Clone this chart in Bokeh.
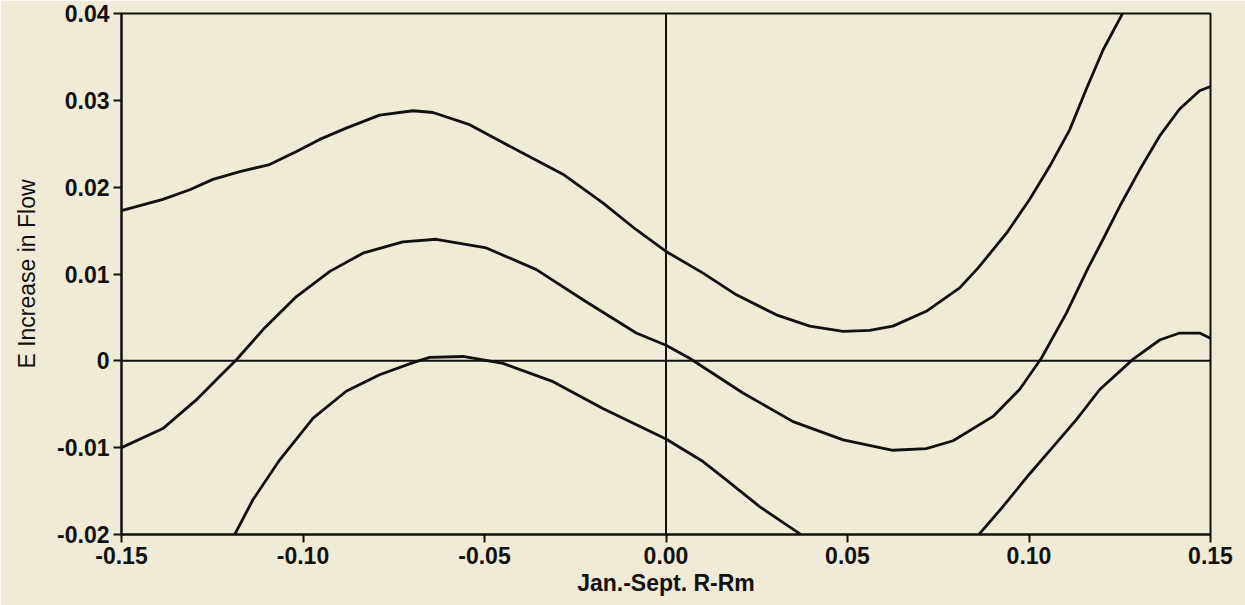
import numpy as np
from bokeh.plotting import figure
from bokeh.models import Span, FixedTicker, Range1d
from bokeh.embed import file_html
from bokeh.resources import INLINE

# ---- data ----
upper_x = [-0.15, -0.1386, -0.1312, -0.1248, -0.1174, -0.1092, -0.1018, -0.0954, -0.0881,
           -0.0789, -0.0697, -0.0642, -0.0541, -0.0403, -0.0284, -0.0174, -0.0082, 0.0,
           0.0102, 0.0194, 0.0304, 0.0396, 0.0488, 0.0561, 0.0625, 0.0717, 0.0809, 0.0860,
           0.0938, 0.1002, 0.1057, 0.1112, 0.1158, 0.1204, 0.1259]
upper_y = [0.0173, 0.0186, 0.0197, 0.0209, 0.0218, 0.0226, 0.0241, 0.0255, 0.0268,
           0.0283, 0.0288, 0.0286, 0.0272, 0.0241, 0.0215, 0.0182, 0.0151, 0.0126,
           0.0101, 0.0076, 0.0053, 0.0040, 0.0034, 0.0035, 0.0040, 0.0057, 0.0084, 0.0107,
           0.0147, 0.0186, 0.0224, 0.0266, 0.0313, 0.0358, 0.0401]

middle_x = [-0.15, -0.1386, -0.1294, -0.1230, -0.1184, -0.1110, -0.1018, -0.0926, -0.0835,
            -0.0725, -0.0633, -0.0495, -0.0357, -0.0220, -0.0082, 0.0, 0.0065, 0.0212,
            0.0350, 0.0488, 0.0625, 0.0717, 0.0791, 0.0901, 0.0974, 0.1034, 0.1103, 0.1163,
            0.1204, 0.1250, 0.1305, 0.1360, 0.1415, 0.1470, 0.15]
middle_y = [-0.0100, -0.0078, -0.0045, -0.0018, 0.0001, 0.0036, 0.0074, 0.0103, 0.0124,
            0.0137, 0.0140, 0.0130, 0.0105, 0.0068, 0.0032, 0.0018, 0.0003, -0.0037,
            -0.0070, -0.0091, -0.0103, -0.0101, -0.0092, -0.0064, -0.0033, 0.0003, 0.0055, 0.0107,
            0.0140, 0.0178, 0.0220, 0.0259, 0.0290, 0.0311, 0.0316]

lower_left_x = [-0.1188, -0.1138, -0.1064, -0.0972, -0.0881, -0.0789, -0.0697, -0.0651,
                -0.0559, -0.0449, -0.0311, -0.0174, 0.0, 0.0102, 0.0166, 0.0258, 0.0368]
lower_left_y = [-0.0200, -0.0160, -0.0114, -0.0066, -0.0035, -0.0016, -0.0002, 0.0004,
                0.0005, -0.0003, -0.0024, -0.0055, -0.0090, -0.0116, -0.0137, -0.0168, -0.0199]

lower_right_x = [0.0864, 0.0928, 0.1002, 0.1066, 0.1130, 0.1195, 0.1287, 0.1360, 0.1415, 0.1470, 0.15]
lower_right_y = [-0.0199, -0.0168, -0.0130, -0.0099, -0.0068, -0.0033, 0.0002, 0.0024, 0.0032, 0.0032, 0.0026]

x_ticks = [-0.15, -0.10, -0.05, 0.0, 0.05, 0.10, 0.15]
x_tick_labels = ["-0.15", "-0.10", "-0.05", "0.00", "0.05", "0.10", "0.15"]
y_ticks = [-0.02, -0.01, 0.0, 0.01, 0.02, 0.03, 0.04]
y_tick_labels = ["-0.02", "-0.01", "0", "0.01", "0.02", "0.03", "0.04"]

BG = "#EFEBD6"
INK = "#111111"
FONT = "Liberation Sans"

p = figure(width=1245, height=605, output_backend="svg", toolbar_location=None,
           x_range=Range1d(-0.15, 0.15), y_range=Range1d(-0.02, 0.04),
           min_border_left=121, min_border_right=35, min_border_top=13, min_border_bottom=71)

p.background_fill_color = BG
p.border_fill_color = BG
p.outline_line_color = INK
p.outline_line_width = 2
p.xgrid.visible = False
p.ygrid.visible = False

for ax, ticks, labels in ((p.xaxis[0], x_ticks, x_tick_labels), (p.yaxis[0], y_ticks, y_tick_labels)):
    ax.ticker = FixedTicker(ticks=ticks)
    ax.major_label_overrides = {t: l for t, l in zip(ticks, labels)}
    ax.major_tick_out = 8
    ax.major_tick_in = 0
    ax.minor_tick_line_color = None
    ax.axis_line_color = INK
    ax.axis_line_width = 2
    ax.major_tick_line_color = INK
    ax.major_tick_line_width = 2
    ax.major_label_text_font = FONT
    ax.major_label_text_font_style = "bold"
    ax.major_label_text_font_size = "23px"
    ax.major_label_text_color = INK
    ax.major_label_standoff = 4
    ax.axis_label_text_color = INK
    ax.axis_label_text_font = FONT

p.xaxis.axis_label = "Jan.-Sept. R-Rm"
p.xaxis.axis_label_text_font_style = "bold"
p.xaxis.axis_label_text_font_size = "23px"
p.xaxis.axis_label_standoff = 3

p.yaxis.axis_label = "E Increase in Flow"
p.yaxis.axis_label_text_font_style = "normal"
p.yaxis.axis_label_text_font_size = "23px"
p.yaxis.axis_label_standoff = 14

p.add_layout(Span(location=0, dimension="width", line_color=INK, line_width=2))
p.add_layout(Span(location=0, dimension="height", line_color=INK, line_width=2))

for xs, ys in ((upper_x, upper_y), (middle_x, middle_y),
               (lower_left_x, lower_left_y), (lower_right_x, lower_right_y)):
    p.line(xs, ys, line_color=INK, line_width=2.8, line_join="round", line_cap="round")

open("out.html", "w").write(file_html(p, INLINE))
